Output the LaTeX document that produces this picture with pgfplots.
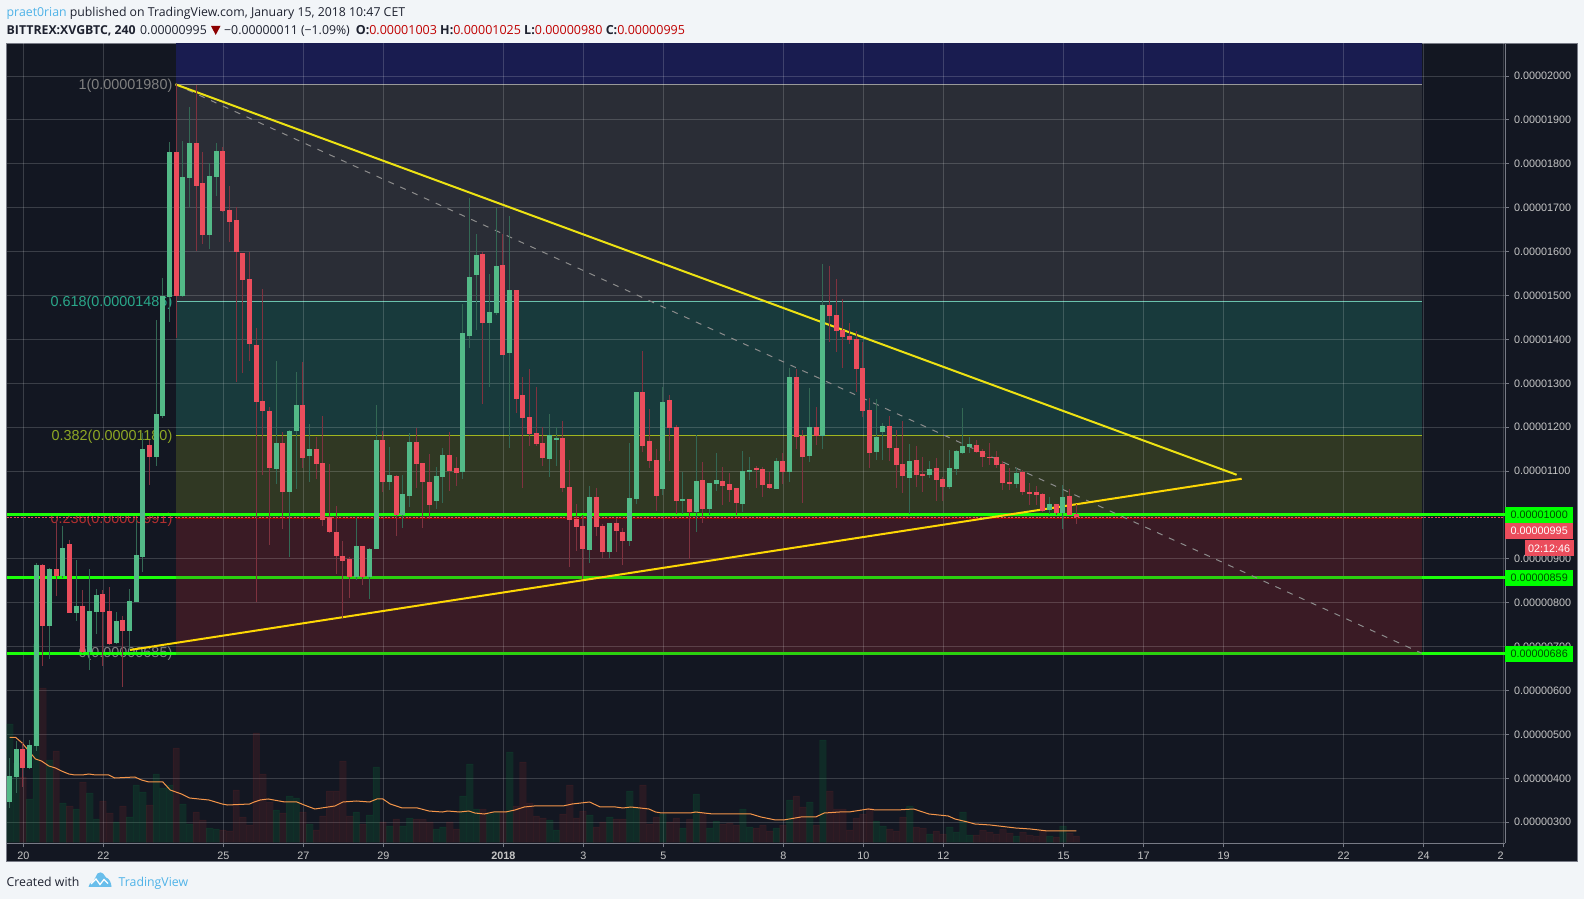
\documentclass[border=0pt]{standalone}
\usepackage{pgfplots}
\pgfplotsset{compat=1.18}
\usepackage{pgfplotstable}
\usepackage{fontspec}
\setmainfont{Open Sans}
\newfontfamily\lib{Liberation Sans}
\definecolor{pagebg}{HTML}{F2F5F8}
\definecolor{panel}{HTML}{131722}
\definecolor{frame}{HTML}{787B86}
\definecolor{up}{HTML}{53B987}
\definecolor{down}{HTML}{EB4D5C}
\definecolor{volup}{RGB}{0,170,70}
\definecolor{voldown}{RGB}{200,50,50}
\definecolor{zblue}{HTML}{191C50}
\definecolor{zgrey}{HTML}{2A2D36}
\definecolor{zteal}{HTML}{183A3C}
\definecolor{zolive}{HTML}{303823}
\definecolor{zred}{HTML}{3A1B25}
\definecolor{lime}{HTML}{1CFF0A}
\definecolor{limed}{HTML}{2BD00F}
\definecolor{tvblue}{HTML}{4FB3E8}
\definecolor{ink}{HTML}{1E2230}
\definecolor{fibteal}{HTML}{2AA88A}
\definecolor{fibolive}{HTML}{8FA825}
\definecolor{fibred}{HTML}{B03030}
\definecolor{maline}{HTML}{F5964A}
% n open high low close volume
\pgfplotstableread{
n o h l c v
0 347 446 332 405 118
1 404 486 366 467 79
3 424 488 422 475 43
4 474 890 463 886 198
6 746 879 673 877 82
8 860 975 856 925 39
10 777 898 759 793 33
12 689 877 647 781 49
13 779 831 729 818 23
16 708 780 706 759 20
18 736 831 692 804 25
19 802 989 802 909 57
20 905 1186 871 1150 50
22 1133 1444 1112 1230 68
23 1226 1539 1222 1499 54
24 1497 1849 1440 1827 57
26 1500 1852 1497 1769 38
27 1768 1929 1701 1847 18
30 1638 1801 1606 1772 14
31 1770 1847 1727 1829 13
40 1105 1351 1071 1164 32
42 1052 1194 905 1191 46
43 1191 1326 1059 1251 44
45 1134 1207 1075 1150 18
52 859 993 852 929 30
54 859 925 809 923 27
55 923 1251 923 1171 75
57 1075 1155 1057 1091 16
59 1000 1091 970 1048 16
60 1043 1187 1018 1166 24
64 1032 1109 1014 1089 13
65 1087 1153 1028 1137 15
68 1098 1481 1083 1415 46
69 1408 1722 1380 1542 78
70 1547 1640 1422 1592 33
72 1437 1549 1292 1462 28
73 1460 1699 1456 1567 30
75 1369 1681 1153 1513 90
81 1128 1230 1087 1182 22
82 1171 1200 1112 1176 12
87 920 1066 891 1041 27
90 916 982 902 982 25
93 941 1164 929 1039 51
94 1037 1280 1025 1280 34
98 1059 1292 1046 1257 28
101 1032 1099 1002 1037 14
103 1007 1182 961 1077 48
105 1014 1073 1000 1073 14
106 1071 1141 1055 1080 21
110 1025 1146 1007 1100 33
111 1098 1132 1080 1103 15
115 1059 1130 1059 1123 14
117 1098 1335 1075 1314 42
120 1134 1289 1121 1200 40
122 1180 1572 1150 1478 102
130 1143 1264 1125 1178 21
131 1189 1210 1125 1203 16
135 1084 1162 1002 1123 36
138 1091 1123 1084 1105 8
141 1064 1148 1059 1107 15
142 1105 1148 1091 1146 10
143 1141 1244 1139 1157 30
144 1155 1178 1141 1162 7
151 1071 1107 1062 1096 6
156 1011 1041 1002 1025 6
158 1005 1068 969 1041 16
}\upcandles
\pgfplotstableread{
n o h l c v
2 467 480 380 424 65
5 886 888 655 746 154
7 877 989 815 861 91
9 934 943 777 777 36
11 793 828 685 689 60
14 820 828 656 779 41
15 781 835 704 706 29
17 761 770 609 736 36
21 1159 1171 1068 1133 37
25 1827 1981 1403 1500 94
28 1847 1980 1601 1749 30
29 1756 1828 1617 1638 22
32 1829 1839 1691 1693 12
33 1695 1749 1622 1667 11
34 1672 1701 1304 1599 52
35 1597 1597 1323 1535 25
36 1538 1600 1351 1390 17
37 1387 1425 802 1257 109
38 1260 1515 1091 1237 68
39 1237 1245 932 1107 40
41 1164 1189 968 1052 29
44 1251 1349 1107 1130 30
46 1150 1178 1082 1116 12
47 1118 1226 975 989 26
48 995 1116 958 961 51
49 961 1020 866 907 51
50 907 941 765 895 81
51 900 905 810 859 26
53 929 930 840 859 18
56 1171 1191 1052 1075 20
58 1089 1090 952 1000 23
61 1166 1198 1062 1116 23
62 1118 1119 970 1075 23
63 1075 1139 992 1023 20
66 1137 1189 1055 1100 20
67 1107 1132 1066 1096 13
71 1595 1599 1253 1437 33
74 1570 1640 1365 1365 30
76 1513 1513 1232 1264 36
77 1273 1314 1062 1221 80
78 1223 1333 1157 1185 39
79 1187 1292 1157 1162 26
80 1164 1200 1112 1130 24
83 1176 1214 1053 1062 28
84 1064 1125 882 989 57
85 991 1025 918 973 24
86 975 999 854 923 31
88 1041 1062 952 973 15
89 975 980 902 916 20
91 982 993 916 964 23
92 962 970 886 941 23
95 1280 1374 1144 1157 57
96 1169 1242 1107 1123 18
97 1125 1150 1009 1043 25
99 1262 1273 1123 1198 20
100 1200 1205 1002 1032 24
102 1037 1037 900 1007 23
104 1080 1121 982 1014 29
107 1077 1109 1023 1066 18
108 1071 1096 1030 1057 19
109 1062 1062 1000 1027 17
112 1107 1112 1062 1103 14
113 1105 1109 1041 1068 17
114 1071 1098 1059 1062 11
116 1123 1141 1071 1098 17
118 1314 1333 1150 1178 46
119 1180 1194 1027 1132 35
121 1200 1246 1159 1180 17
123 1478 1567 1394 1453 51
124 1456 1538 1371 1419 33
125 1421 1492 1335 1405 33
126 1408 1437 1390 1399 12
127 1401 1419 1280 1333 24
128 1335 1394 1223 1237 28
129 1239 1267 1107 1141 34
132 1203 1226 1123 1153 13
133 1153 1194 1062 1114 11
134 1116 1214 1050 1089 25
136 1125 1157 1064 1091 15
137 1093 1132 1052 1091 14
139 1107 1130 1032 1080 11
140 1082 1087 1032 1064 8
145 1159 1171 1141 1143 7
146 1146 1150 1109 1132 12
147 1132 1164 1114 1130 10
148 1132 1146 1107 1114 8
149 1116 1123 1057 1073 13
150 1075 1107 1057 1071 9
152 1098 1103 1046 1052 10
153 1052 1073 1023 1050 7
154 1052 1066 1023 1046 6
155 1048 1050 1007 1009 11
157 1025 1025 1000 1005 5
159 1043 1059 1000 1000 9
160 1003 1025 980 995 6
}\downcandles
\pgfplotsset{
  common/.style={
    scale only axis, width=1498.5pt, height=799.8pt,
    xmin=-0.45, xmax=224.3,
  },
  price/.style={common, ymin=252.1, ymax=2074.1},
  candlebars/.style 2 args={draw=none, no markers, forget plot, error bars/.cd, y dir=both, y explicit, error mark=none, error bar style={solid,draw=#1,line width=#2}},
}
\newcommand\zone[3]{\addplot[draw=none,fill=#1,forget plot] coordinates {(24.9,#2)(211.8,#2)(211.8,#3)(24.9,#3)} --cycle;}
\newcommand\fibline[2]{\addplot[#1,line width=1pt,forget plot] coordinates {(24.9,#2)(211.8,#2)};}
\newcommand\fiblabel[3]{\node[anchor=east,inner sep=0pt,yshift=-1pt,text=#1,font=\lib\fontsize{14.4}{15}\selectfont] at (axis cs:24.45,#2) {#3};}
\newcommand\pricetag[4]{\node[fill=#1,text=#2,inner sep=0pt,minimum width=68pt,minimum height=16pt,anchor=west,font=\lib\fontsize{10.8}{12}\selectfont] at (axis cs:224.3,#3) {#4};}
\begin{document}
\begin{tikzpicture}[x=1pt,y=1pt]
\fill[pagebg] (0,0) rectangle (1584,899);
\fill[panel] (6.5,37) rectangle (1577.7,855.5);
\draw[frame,line width=1pt] (6.5,37) rectangle (1577.7,855.5);
% header
\node[anchor=base west,inner sep=0pt,font=\fontsize{12.3}{14}\selectfont,text=ink] at (6.5,882.3) {{\color{tvblue}praet0rian} published on TradingView.com, January 15, 2018 10:47 CET};
\node[anchor=base west,inner sep=0pt,font=\bfseries\fontsize{12.3}{14}\selectfont,text=ink] at (6.5,864.8) {BITTREX:XVGBTC, 240};
\node[anchor=base west,inner sep=0pt,font=\fontsize{12.3}{14}\selectfont,text=ink] at (140,864.8) {0.00000995};
\fill[red!55!black] (211,873) -- (220.5,873) -- (215.7,864) -- cycle;
\node[anchor=base west,inner sep=0pt,font=\fontsize{12.3}{14}\selectfont,text=ink] at (224,864.8) {−0.00000011 (−1.09\%)};
\node[anchor=base west,inner sep=0pt,font=\fontsize{12.5}{14}\selectfont,text=red!75!black] at (355.6,864.8) {{\bfseries\color{ink}O:}0.00001003 {\bfseries\color{ink}H:}0.00001025 {\bfseries\color{ink}L:}0.00000980 {\bfseries\color{ink}C:}0.00000995};
% footer
\node[anchor=base west,inner sep=0pt,font=\fontsize{12.3}{14}\selectfont,text=ink] at (6.5,12.8) {Created with};
\fill[tvblue!85!white] (88.5,12) .. controls (88.5,15) and (91,17) .. (93,17) -- (97.5,25.5) .. controls (99,27) and (102,27) .. (103,25.5) -- (106,21.5) .. controls (109,21) and (111.5,16) .. (111.5,12) -- cycle;
\draw[white,line width=1.3pt] (91,15) -- (96,20) -- (100,14.5) -- (104,19.5) -- (108,15.5);
\node[anchor=base west,inner sep=0pt,font=\fontsize{12.3}{14}\selectfont,text=tvblue] at (118.5,12.8) {TradingView};
% base axis: zones, fibonacci labels, grid and ticks
\begin{axis}[price, at={(6.5pt,55.7pt)}, anchor=south west,
  axis on top, axis x line*=bottom, axis y line*=right,
  axis line style={frame,line width=1pt},
  clip mode=individual,
  grid=major, major grid style={white,opacity=.17,line width=1pt},
  tick style={frame,line width=1pt}, tick align=outside, major tick length=4pt,
  xtick={2.08,14.08,32.08,44.08,56.08,74.08,86.08,98.08,116.08,128.08,140.08,158.08,170.08,182.08,200.08,212.08,224.08},
  xticklabels={20,22,25,27,29,\bfseries 2018,3,5,8,10,12,15,17,19,22,24,2\hphantom{6}},
  ytick={300,400,...,2000},
  yticklabels={0.00000300,0.00000400,0.00000500,0.00000600,0.00000700,0.00000800,0.00000900,{},0.00001100,0.00001200,0.00001300,0.00001400,0.00001500,0.00001600,0.00001700,0.00001800,0.00001900,0.00002000},
  ticklabel style={text=white!78!black,font=\lib\fontsize{10.8}{12}\selectfont},
  x tick label style={yshift=-1pt},
  y tick label style={xshift=1.5pt},
]
\zone{zblue}{1981}{2074.1}
\zone{zgrey}{1486}{1981}
\zone{zteal}{1180}{1486}
\zone{zolive}{991}{1180}
\zone{zred}{685}{991}
\fibline{white!60!black}{1981}
\fibline{fibteal!70!white}{1486}
\fibline{fibolive!85!yellow}{1180}
\fibline{red!65!black}{991}
\fibline{white!50!black}{685}
\fiblabel{white!50!black}{1981}{1(0.00001980)}
\fiblabel{fibteal}{1486}{0.618(0.00001486)}
\fiblabel{fibolive}{1180}{0.382(0.00001180)}
\fiblabel{fibred}{991}{0.236(0.00000991)}
\fiblabel{white!50!black}{685}{0(0.00000685)}
\end{axis}
% volume and its moving average
\begin{axis}[common, at={(6.5pt,55.7pt)}, anchor=south west, hide axis, ymin=-1.3, ymax=798.5]
\addplot[ybar, bar shift=0pt, bar width=6.6pt, fill=volup, fill opacity=.14, draw=volup, draw opacity=.05, forget plot] table[x=n,y=v] {\upcandles};
\addplot[ybar, bar shift=0pt, bar width=6.6pt, fill=voldown, fill opacity=.12, draw=voldown, draw opacity=.05, forget plot] table[x=n,y=v] {\downcandles};
\addplot[color=maline, line width=1pt, forget plot] coordinates {
(0,104.7)(0.9,104.7)(1.9,99)(2.9,91)(3.9,83)(4.8,81)(5.9,76)(6.9,74)(7.8,71)(8.9,68)(9.8,67)(10.9,67)(11.9,68)(12.9,67)(14.9,67)(15.8,64)(18.8,65)(19.8,62)(20.9,60)(23,60)(24.1,52)(25.8,48)(27,44)(28.4,43)(29.9,42)(31.9,38)(32.7,37)(36,38)(36.7,40)(37.6,42)(38.8,43)(41.3,40)(43.1,40)(44.2,37)(45.8,33)(48.8,36)(50,40)(52,41)(54,40)(55.1,43)(56,43)(57.1,38)(58.9,34)(61.2,34)(62.9,31)(64.9,30)(65.7,31)(67.5,30)(68.9,31)(69.8,29)(71.2,28)(72.6,30)(74.4,30)(75.8,32)(77.2,35)(78.7,36)(83,36)(84.4,38)(87,40)(88.6,35)(90.9,35)(92,34)(93.2,35)(94.6,34)(95.9,33)(96.9,30)(97.8,29)(102.1,29)(102.9,30)(105.5,28)(111.2,28)(112.7,25)(114.9,22)(116.1,22)(118.7,25)(120.9,25)(122.2,29)(124.5,30)(125.9,30)(128.8,33)(129.9,32)(133.1,32)(135.6,33)(137.9,28)(140.8,26)(141.8,23)(143.7,20)(144.8,18)(147.1,17)(150.9,14)(153.1,13)(155.7,11)(160,11)};
\end{axis}
% price lines and candles
\begin{axis}[price, at={(6.5pt,55.7pt)}, anchor=south west, hide axis, clip mode=individual]
\addplot[lime,line width=3pt,forget plot] coordinates {(-0.45,1000.5)(224.3,1000.5)};
\addplot[lime,line width=3pt,forget plot] coordinates {(-0.45,858)(224.3,858)};
\addplot[limed,line width=3pt,forget plot] coordinates {(24.9,858)(211.8,858)};
\addplot[lime,line width=3pt,forget plot] coordinates {(-0.45,685)(224.3,685)};
\addplot[limed,line width=3pt,forget plot] coordinates {(24.9,685)(211.8,685)};
\addplot[down,line width=1pt,dash pattern=on 2pt off 1.5pt,forget plot] coordinates {(-0.45,995)(224.3,995)};
\addplot[white!55!black,line width=1pt,dash pattern=on 6pt off 7pt,forget plot] coordinates {(24.9,1981)(211.8,685)};
\addplot[yellow!92!black,line width=2pt,forget plot] coordinates {(24.9,1981)(184.05,1091.6)};
\addplot[yellow!75!orange,line width=2pt,forget plot] coordinates {(18.07,692.5)(184.8,1082.5)};
% wicks
\addplot[candlebars={up!50!panel}{1pt}]
  table[x=n,y expr=(\thisrow{h}+\thisrow{l})/2,y error expr=(\thisrow{h}-\thisrow{l})/2] {\upcandles};
\addplot[candlebars={down!50!panel}{1pt}]
  table[x=n,y expr=(\thisrow{h}+\thisrow{l})/2,y error expr=(\thisrow{h}-\thisrow{l})/2] {\downcandles};
% bodies
\addplot[candlebars={up}{5pt}]
  table[x=n,y expr=(\thisrow{o}+\thisrow{c})/2,y error expr=abs(\thisrow{c}-\thisrow{o})/2] {\upcandles};
\addplot[candlebars={down}{5pt}]
  table[x=n,y expr=(\thisrow{o}+\thisrow{c})/2,y error expr=abs(\thisrow{c}-\thisrow{o})/2] {\downcandles};
\pricetag{green}{black!70!green}{1000}{0.00001000}
\pricetag{down}{white}{964}{0.00000995}
\pricetag{green}{black!70!green}{856.5}{0.00000859}
\pricetag{green}{black!70!green}{684}{0.00000686}
\node[fill=down,text=white,inner sep=0pt,minimum width=49pt,minimum height=16pt,anchor=west,font=\lib\fontsize{10.8}{12}\selectfont] at (axis cs:227.2,924) {02:12:46};
\end{axis}
\end{tikzpicture}
\end{document}
